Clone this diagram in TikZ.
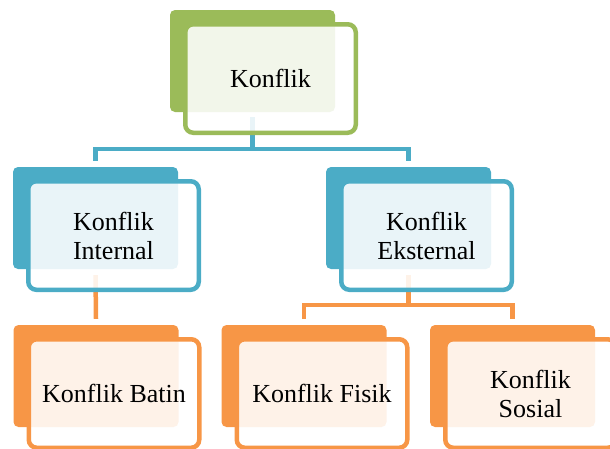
\documentclass[tikz,border=0pt]{standalone}
\usepackage{fontspec}
\setmainfont{Liberation Serif}
\definecolor{cgreen}{HTML}{9BBB59}
\definecolor{cblue}{HTML}{4BACC6}
\definecolor{corange}{HTML}{F79646}
\tikzset{
  backbox/.style={fill=#1, draw=none, rounded corners=5pt, minimum width=165pt, minimum height=102pt, inner sep=0pt},
  frontbox/.style={draw=#1, line width=4.5pt, fill=white, fill opacity=0.88, text opacity=1, rounded corners=8pt,
    minimum width=170.5pt, minimum height=108.5pt, inner sep=0pt, align=center, font=\fontsize{26}{29}\selectfont},
  conn/.style={draw=#1, line width=4.5pt},
}
\begin{document}
\begin{tikzpicture}[x=1pt,y=-1pt]
\useasboundingbox (0,0) rectangle (610,448);
\coordinate (b1) at (0,149);
\coordinate (b2) at (0,305);
% back boxes
\node[backbox=cgreen] (kb) at (252.5,61) {};
\node[backbox=cblue] (ib) at (95.5,218) {};
\node[backbox=cblue] (eb) at (408.5,218) {};
\node[backbox=corange] (bb) at (96,376) {};
\node[backbox=corange] (fb) at (304,376) {};
\node[backbox=corange] (sb) at (512.5,376) {};
% connectors
\draw[conn=cblue] ([yshift=-5pt]kb.south) -- (kb.south |- b1) -| ([yshift=6pt]ib.north);
\draw[conn=cblue] (kb.south |- b1) -| ([yshift=6pt]eb.north);
\draw[conn=corange] ([yshift=-6pt]ib.south) -- ([yshift=6pt]bb.north);
\draw[conn=corange] ([yshift=-6pt]eb.south) -- (eb.south |- b2) -| ([yshift=6pt]fb.north);
\draw[conn=corange] (eb.south |- b2) -| ([yshift=6pt]sb.north);
% front boxes
\node[frontbox=cgreen] (kf) at (270.5,78.5) {Konflik};
\node[frontbox=cblue] (if) at (113.5,235.5) {Konflik\\Internal};
\node[frontbox=cblue] (ef) at (426.5,235.5) {Konflik\\Eksternal};
\node[frontbox=corange] (bf) at (114,393.5) {Konflik Batin};
\node[frontbox=corange] (ff) at (322,393.5) {Konflik Fisik};
\node[frontbox=corange] (sf) at (530.5,393.5) {Konflik\\Sosial};
\end{tikzpicture}
\end{document}
